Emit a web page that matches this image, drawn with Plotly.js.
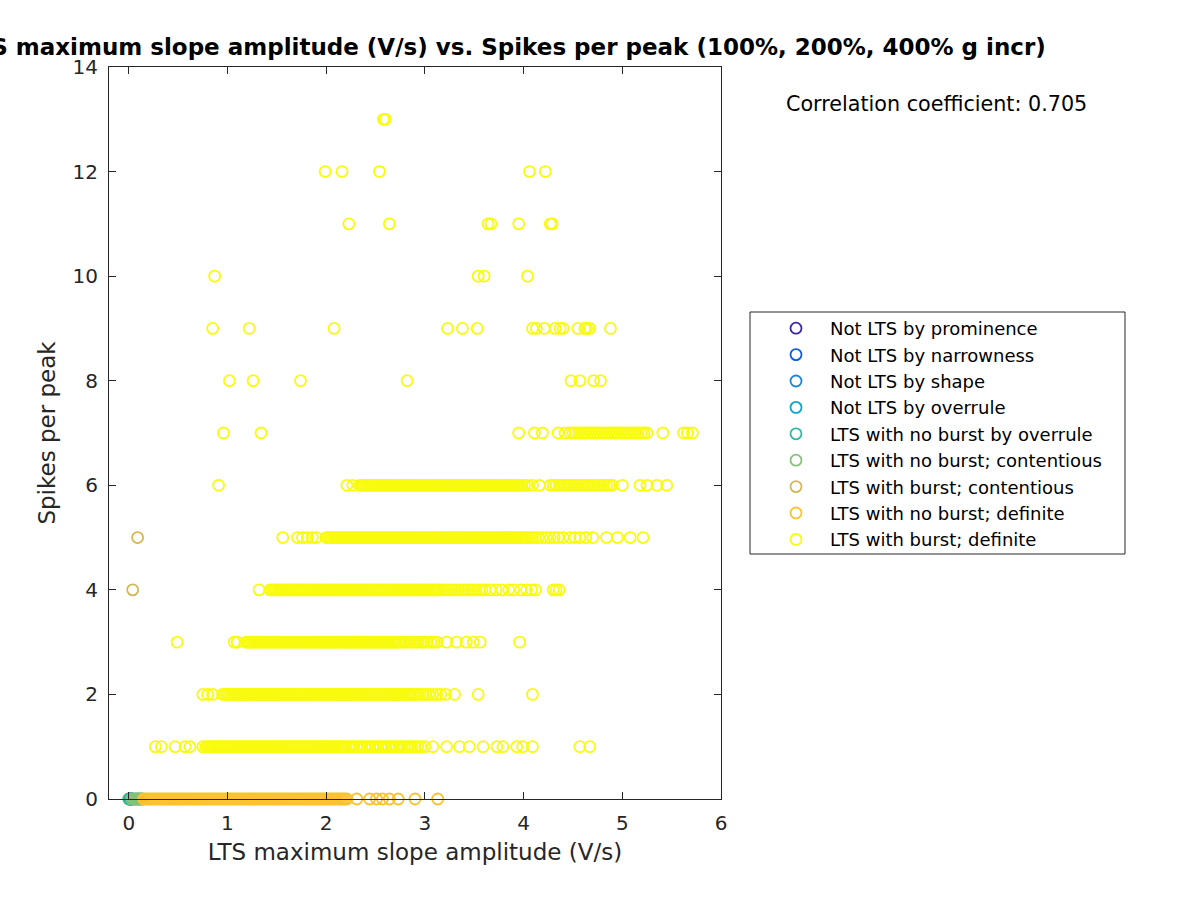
<!DOCTYPE html>
<html>
<head>
<meta charset="utf-8">
<script src="https://cdn.plot.ly/plotly-3.0.1.min.js"></script>
<style>
  body { margin: 0; background: #fff; }
  #plotLts { width: 1200px; height: 900px; }
</style>
</head>
<body>
<div id="plotLts"></div>
<script>
var myPlot = document.getElementById('plotLts')

// legend names, in plot order
var classNames = [
  "Not LTS by prominence", "Not LTS by narrowness", "Not LTS by shape",
  "Not LTS by overrule", "LTS with no burst by overrule",
  "LTS with no burst; contentious", "LTS with burst; contentious",
  "LTS with no burst; definite", "LTS with burst; definite"
];
var classColors = [
  "#3e26a8", "#0b5ce0", "#1a86d8", "#08a6c8", "#2fb7a2",
  "#86c07a", "#d4b754", "#fdc22f", "#f9fb0e"
];

// x = LTS maximum slope amplitude (V/s), y = spikes per peak
var promX = [0.02], promY = [0];
var narrowX = [0.03], narrowY = [0];
var shapeX = [0.02], shapeY = [0];
var overruleX = [0.01], overruleY = [0];
var noBurstOverX = [0.00, 0.01, 0.02, 0.03], noBurstOverY = [0, 0, 0, 0];
var noBurstContX = [0.03, 0.05, 0.06, 0.07, 0.08, 0.09, 0.10, 0.11, 0.12, 0.13, 0.14];
var burstContX = [0.04, 0.09], burstContY = [4, 5];

// LTS with no burst; definite (all 0 spikes)
var noBurstDefX = [
  0.15,0.17,0.19,0.21,0.23,0.25,0.27,0.29,0.31,0.33,0.35,0.37,0.39,0.41,0.43,0.45,0.47,0.49,0.51,0.53,
  0.55,0.57,0.59,0.61,0.63,0.65,0.67,0.69,0.71,0.73,0.75,0.77,0.79,0.81,0.83,0.85,0.87,0.89,0.91,0.93,
  0.95,0.97,0.99,1.01,1.03,1.05,1.07,1.09,1.11,1.13,1.15,1.17,1.19,1.21,1.23,1.25,1.27,1.29,1.31,1.33,
  1.35,1.37,1.39,1.41,1.43,1.45,1.47,1.49,1.51,1.53,1.55,1.57,1.59,1.61,1.63,1.65,1.67,1.69,1.71,1.73,
  1.75,1.77,1.79,1.81,1.83,1.85,1.87,1.89,1.91,1.93,1.95,1.97,1.99,2.01,2.03,2.05,2.07,2.09,2.11,2.13,
  2.15,2.17,2.19,2.21,2.31,2.44,2.51,2.57,2.64,2.73,2.90,3.13
];

// LTS with burst; definite, one array per spike count
var burst1X = [
  0.27,0.33,0.47,0.57,0.62,0.75,
  0.78,0.80,0.82,0.84,0.86,0.88,0.90,0.92,0.94,0.96,0.98,1.00,1.02,1.04,1.06,1.08,1.10,1.12,1.14,1.16,
  1.18,1.20,1.22,1.24,1.26,1.28,1.30,1.32,1.34,1.36,1.38,1.40,1.42,1.44,1.46,1.48,1.50,1.52,1.54,1.56,
  1.58,1.60,1.62,1.64,1.66,1.68,1.70,1.72,1.74,1.76,1.78,1.80,1.82,1.84,1.86,1.88,1.90,1.92,1.94,1.96,
  1.98,2.00,2.02,2.04,2.06,2.08,2.10,2.12,2.14,2.16,2.18,2.20,2.23,2.26,2.28,2.31,2.34,2.36,2.39,2.42,
  2.44,2.47,2.50,2.52,2.55,2.58,2.60,2.63,2.66,2.68,2.71,2.74,2.76,2.79,2.82,2.84,2.87,2.90,2.93,2.96,
  3.00,3.08,3.22,3.35,3.45,3.59,3.73,3.79,3.93,3.99,4.09,4.57,4.67
];
var burst2X = [
  0.75,0.80,0.85,
  0.95,0.97,0.99,1.01,1.03,1.05,1.07,1.09,1.11,1.13,1.15,1.17,1.19,1.21,1.23,1.25,1.27,1.29,1.31,1.33,
  1.35,1.37,1.39,1.41,1.43,1.45,1.47,1.49,1.51,1.53,1.55,1.57,1.59,1.61,1.63,1.65,1.67,1.69,1.71,1.73,
  1.75,1.77,1.79,1.81,1.83,1.85,1.87,1.89,1.91,1.93,1.95,1.97,1.99,2.01,2.03,2.05,2.07,2.09,2.11,2.13,
  2.15,2.17,2.19,2.21,2.23,2.25,2.27,2.29,2.31,2.33,2.35,2.37,2.39,2.41,2.43,2.45,2.47,2.49,2.51,2.53,
  2.55,2.57,2.59,2.61,2.63,2.65,2.67,2.69,2.71,2.73,2.75,2.77,2.79,2.81,2.83,2.85,2.87,2.89,2.92,2.95,
  2.98,3.01,3.04,3.08,3.12,3.16,3.21,3.30,3.54,4.09
];
var burst3X = [
  0.49,1.07,1.10,
  1.19,1.21,1.23,1.25,1.27,1.29,1.31,1.33,1.35,1.37,1.39,1.41,1.43,1.45,1.47,1.49,1.51,1.53,1.55,1.57,
  1.59,1.61,1.63,1.65,1.67,1.69,1.71,1.73,1.75,1.77,1.79,1.81,1.83,1.85,1.87,1.89,1.91,1.93,1.95,1.97,
  1.99,2.01,2.03,2.05,2.07,2.09,2.11,2.13,2.15,2.17,2.19,2.21,2.23,2.25,2.27,2.29,2.31,2.33,2.35,2.37,
  2.39,2.41,2.43,2.45,2.47,2.49,2.51,2.53,2.55,2.57,2.59,2.61,2.63,2.65,2.67,2.69,2.71,2.73,2.75,2.78,
  2.81,2.84,2.87,2.90,2.93,2.96,2.99,3.02,3.06,3.09,3.12,3.22,3.32,3.42,3.49,3.56,3.96
];
var burst4X = [
  1.32,
  1.43,1.45,1.47,1.49,1.51,1.53,1.55,1.57,1.59,1.61,1.63,1.65,1.67,1.69,1.71,1.73,1.75,1.77,1.79,1.81,
  1.83,1.85,1.87,1.89,1.91,1.93,1.95,1.97,1.99,2.01,2.03,2.05,2.07,2.09,2.11,2.13,2.15,2.17,2.19,2.21,
  2.23,2.25,2.27,2.29,2.31,2.33,2.35,2.37,2.39,2.41,2.43,2.45,2.47,2.49,2.51,2.53,2.55,2.57,2.59,2.61,
  2.63,2.65,2.67,2.69,2.71,2.73,2.75,2.77,2.79,2.81,2.83,2.85,2.87,2.89,2.91,2.93,2.95,2.97,2.99,3.01,
  3.03,3.05,3.07,3.09,3.11,3.13,3.16,3.19,3.22,3.25,3.28,3.31,3.34,3.37,3.40,3.43,3.46,3.49,3.52,3.55,
  3.58,3.61,3.66,3.72,3.78,3.85,3.90,3.97,4.03,4.08,4.12,4.30,4.33,4.36
];
var burst5X = [
  1.56,1.71,1.76,1.81,1.86,1.90,
  2.00,2.02,2.04,2.06,2.08,2.10,2.12,2.14,2.16,2.18,2.20,2.22,2.24,2.26,2.28,2.30,2.32,2.34,2.36,2.38,
  2.40,2.42,2.44,2.46,2.48,2.50,2.52,2.54,2.56,2.58,2.60,2.62,2.64,2.66,2.68,2.70,2.72,2.74,2.76,2.78,
  2.80,2.82,2.84,2.86,2.88,2.90,2.92,2.94,2.96,2.98,3.00,3.02,3.04,3.06,3.08,3.10,3.12,3.14,3.16,3.18,
  3.20,3.22,3.24,3.26,3.28,3.30,3.32,3.34,3.36,3.38,3.40,3.42,3.44,3.46,3.48,3.50,3.52,3.54,3.56,3.58,
  3.60,3.62,3.64,3.66,3.68,3.70,3.72,3.74,3.76,3.78,3.80,3.82,3.84,3.86,3.88,3.90,3.92,3.94,3.96,3.98,
  4.00,4.03,4.06,4.09,4.12,4.15,4.19,4.23,4.27,4.31,4.35,4.40,4.47,4.52,4.57,4.63,4.70,4.84,4.95,5.08,5.21
];
var burst6X = [
  0.91,2.21,2.27,
  2.34,2.36,2.38,2.40,2.42,2.44,2.46,2.48,2.50,2.52,2.54,2.56,2.58,2.60,2.62,2.64,2.66,2.68,2.70,2.72,
  2.74,2.76,2.78,2.80,2.82,2.84,2.86,2.88,2.90,2.92,2.94,2.96,2.98,3.00,3.02,3.04,3.06,3.08,3.10,3.12,
  3.14,3.16,3.18,3.20,3.22,3.24,3.26,3.28,3.30,3.32,3.34,3.36,3.38,3.40,3.42,3.44,3.46,3.48,3.50,3.52,
  3.54,3.56,3.58,3.60,3.62,3.64,3.66,3.68,3.70,3.72,3.74,3.76,3.78,3.80,3.82,3.84,3.86,3.88,3.90,3.92,
  3.94,3.96,3.98,4.01,4.04,4.09,4.16,4.27,4.30,4.33,4.36,4.39,4.42,4.45,4.48,4.51,4.54,4.57,4.60,4.63,
  4.66,4.69,4.72,4.75,4.78,4.81,4.84,4.87,4.90,5.00,5.18,5.25,5.35,5.45
];
var burst7X = [
  0.96,1.34,3.95,4.11,4.19,4.35,4.42,
  4.47,4.50,4.53,4.56,4.59,4.62,4.65,4.68,4.71,4.74,4.77,4.80,4.83,4.86,4.89,4.92,4.95,4.98,5.01,5.04,
  5.07,5.10,5.13,5.16,5.19,5.22,5.25,5.41,5.62,5.66,5.71
];
var burst8X = [1.02, 1.26, 1.74, 2.82, 4.48, 4.57, 4.71, 4.78];
var burst9X = [0.85, 1.22, 2.08, 3.23, 3.38, 3.53, 4.09, 4.13, 4.21, 4.32, 4.37, 4.40, 4.55, 4.62, 4.64, 4.67, 4.88];
var burst10X = [0.87, 3.54, 3.60, 4.04];
var burst11X = [2.23, 2.64, 3.64, 3.67, 3.95, 4.27, 4.29];
var burst12X = [1.99, 2.16, 2.54, 4.06, 4.22];
var burst13X = [2.58, 2.60];

var burstRows = [burst1X, burst2X, burst3X, burst4X, burst5X, burst6X,
                 burst7X, burst8X, burst9X, burst10X, burst11X, burst12X, burst13X];
var burstDefX = [], burstDefY = [];
burstRows.forEach(function(row, i) {
  row.forEach(function(v) { burstDefX.push(v); burstDefY.push(i + 1); });
});

var corrCoef = 0.705;

var classX = [promX, narrowX, shapeX, overruleX, noBurstOverX, noBurstContX,
              burstContX, noBurstDefX, burstDefX];
var classY = [promY, narrowY, shapeY, overruleY, noBurstOverY,
              noBurstContX.map(function() { return 0; }), burstContY,
              noBurstDefX.map(function() { return 0; }), burstDefY];

var data = [];
for (var k = 0; k < classNames.length; k++) {
  data.push({
    x: classX[k], y: classY[k],
    mode: 'markers',
    type: 'scatter',
    name: classNames[k],
    cliponaxis: false,
    hoverinfo: 'x+y+name',
    marker: {
      symbol: 'circle-open',
      size: 11,
      color: classColors[k],
      line: {width: 1.8}
    }
  });
}

var axisCommon = {
  showline: true,
  linecolor: '#262626',
  linewidth: 1,
  mirror: 'ticks',
  ticks: 'inside',
  ticklen: 7,
  tickcolor: '#262626',
  showgrid: false,
  zeroline: false,
  tickfont: {size: 20, color: '#262626'}
};

var layout = {
  width: 1200,
  height: 900,
  paper_bgcolor: '#ffffff',
  plot_bgcolor: '#ffffff',
  font: {family: 'DejaVu Sans, sans-serif', color: '#262626'},
  showlegend: true,
  title: {
    text: "<b>LTS maximum slope amplitude (V/s) vs. Spikes per peak (100%, 200%, 400% g incr)</b>",
    font: {size: 23, color: '#000000'},
    x: 0.421, xref: 'container', xanchor: 'center',
    y: 0.948, yref: 'container', yanchor: 'middle'
  },
  xaxis: Object.assign({}, axisCommon, {
    range: [-0.2, 6],
    tickvals: [0, 1, 2, 3, 4, 5, 6],
    ticklabelstandoff: 6,
    title: {text: "LTS maximum slope amplitude (V/s)", font: {size: 23, color: '#262626'}, standoff: 9}
  }),
  yaxis: Object.assign({}, axisCommon, {
    range: [0, 14],
    tickvals: [0, 2, 4, 6, 8, 10, 12, 14],
    ticklabelstandoff: 6,
    title: {text: "Spikes per peak", font: {size: 23, color: '#262626'}, standoff: 10}
  }),
  legend: {
    x: (762 - 109) / 612, xanchor: 'left',
    y: (799 - 310) / 732, yanchor: 'top',
    bgcolor: 'rgba(0,0,0,0)',
    borderwidth: 0,
    itemwidth: 58,
    font: {size: 18, color: '#000000'},
    tracegroupgap: 0
  },
  shapes: [{
    type: 'rect', xref: 'paper', yref: 'paper', layer: 'below',
    x0: (750 - 109) / 612, x1: (1125 - 109) / 612,
    y0: (799 - 554) / 732, y1: (799 - 312) / 732,
    line: {color: '#262626', width: 1}, fillcolor: '#ffffff'
  }],
  annotations: [{
    xref: 'paper', yref: 'paper',
    x: (784 - 109) / 612, y: (799 - 104) / 732, xanchor: 'left', yanchor: 'middle',
    text: "Correlation coefficient: " + corrCoef.toFixed(3),
    showarrow: false,
    font: {size: 20.7, color: '#000000'}
  }],
  margin: {l: 109, r: 479, t: 67, b: 101}
};

Plotly.newPlot('plotLts', data, layout, {displayModeBar: false});
</script>
</body>
</html>
